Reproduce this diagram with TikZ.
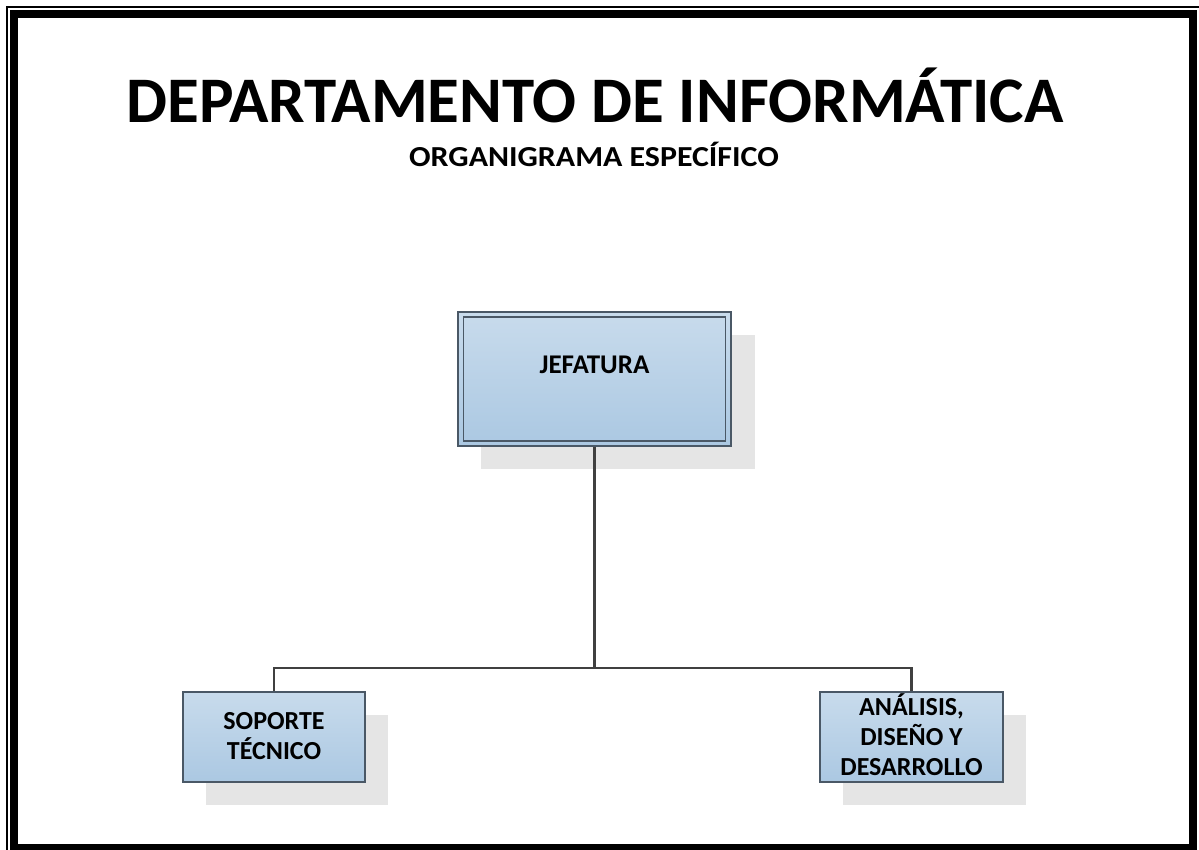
\documentclass[tikz,border=0pt]{standalone}
\usepackage{fontspec}
\setmainfont{Carlito}
\definecolor{boxtop}{HTML}{C8DBEC}
\definecolor{boxbot}{HTML}{ABC8E2}
\definecolor{boxline}{HTML}{4A5866}
\definecolor{shadowc}{HTML}{E5E5E5}
\definecolor{connc}{HTML}{404040}
\tikzset{
  orgbox/.style={draw=boxline, line width=1.2pt, top color=boxtop, bottom color=boxbot, inner sep=0pt, rectangle},
  shadowbox/.style={fill=shadowc},
  conn/.style={draw=connc, line width=2.5pt},
  boxtext/.style={font=\bfseries\fontsize{26}{30}\selectfont, align=center, inner sep=0pt, anchor=base}
}
\begin{document}
\begin{tikzpicture}[x=1pt,y=-1pt]
\useasboundingbox (0,0) rectangle (1199,850);
% page frame
\draw[line width=2pt] (7,852) -- (7,7) -- (1201,7);
\draw[line width=8pt] (13.5,14.5) rectangle (1192.5,847.5);
% titles
\node[font=\bfseries\fontsize{65}{65}\selectfont, anchor=base, inner sep=0pt] (title) at (595,123) {DEPARTAMENTO DE INFORMÁTICA};
\node[font=\bfseries\fontsize{29}{29}\selectfont, anchor=base, inner sep=0pt, xscale=1.1] (sub) at (594,167) {ORGANIGRAMA ESPECÍFICO};
% shadows
\fill[shadowbox] (481,335) rectangle (755,469);
\fill[shadowbox] (206,715) rectangle (388,805);
\fill[shadowbox] (843,715) rectangle (1026,805);
% boxes
\node[orgbox, minimum width=273pt, minimum height=134pt] (jef) at (594.5,379) {};
\draw[boxline, line width=1.2pt] (463.5,317) rectangle (725.5,441);
\node[orgbox, minimum width=182pt, minimum height=90pt] (sop) at (274,737) {};
\node[orgbox, minimum width=183pt, minimum height=90pt] (ana) at (911.5,737) {};
% texts
\node[boxtext, font=\bfseries\fontsize{27}{30}\selectfont] (jeft) at (594.5,373) {JEFATURA};
\node[boxtext] (sopt) at (274,759) {SOPORTE\\TÉCNICO};
\node[boxtext] (anat) at (911.5,775) {ANÁLISIS,\\DISEÑO Y\\DESARROLLO};
% connectors
\coordinate (busmid) at (594.5,668);
\draw[conn] (jef.south) -- (busmid);
\draw[conn] (sop.north) |- (busmid) -| (ana.north);
\end{tikzpicture}
\end{document}
